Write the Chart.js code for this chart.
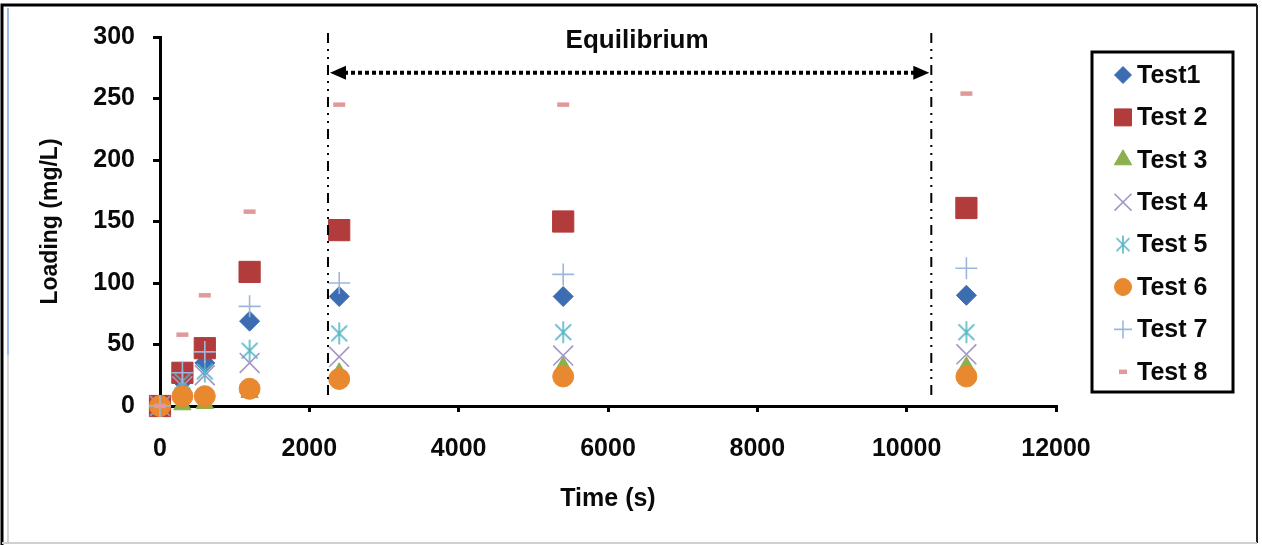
<!DOCTYPE html>
<html>
<head>
<meta charset="utf-8">
<script src="https://cdn.jsdelivr.net/npm/chart.js"></script>
<style>
  html, body { margin: 0; padding: 0; background: #fff; }
  #wrap { width: 1262px; height: 545px; }
</style>
</head>
<body>
<div id="wrap"><canvas id="loadingChart" width="1262" height="545"></canvas></div>
<script>
// sampling times (s)
const times = [0, 300, 600, 1200, 2400, 5400, 10800];

// loading (mg/L) per test
const test1 = [0, 20, 35, 69, 89, 89, 90];
const test2 = [0, 27, 47, 109, 143, 150, 161];
const test3 = [0, 1, 2, 11, 27, 32, 32];
const test4 = [0, 16, 25, 35, 40, 41, 42];
const test5 = [0, 20, 28, 45, 59, 60, 60];
const test6 = [0, 8, 8, 14, 22, 24, 24];
const test7 = [0, 27, 44, 81, 100, 107, 112];
const test8 = [0, 58, 90, 158, 245, 245, 254];

const seriesNames = ['Test1', 'Test 2', 'Test 3', 'Test 4', 'Test 5', 'Test 6', 'Test 7', 'Test 8'];
const seriesValues = [test1, test2, test3, test4, test5, test6, test7, test8];

// equilibrium annotation (data units)
const eqStart = 2250;
const eqEnd = 10330;
const eqArrowY = 271;
const eqLabelY = 297;
const eqLabelX = 6390;
const eqLabel = 'Equilibrium';

const FONT = "'Liberation Sans', Arial, sans-serif";
const TEXT = '#0a0a0a';

function makeAsterisk(color, half, lw) {
    let c = document.createElement('canvas');
    let size = Math.ceil(half * 2 + 4);
    c.width = size;
    c.height = size;
    let g = c.getContext('2d');
    let m = size / 2;
    let d = half * 0.72;
    g.strokeStyle = color;
    g.lineWidth = lw;
    g.beginPath();
    g.moveTo(m - d, m - d); g.lineTo(m + d, m + d);
    g.moveTo(m + d, m - d); g.lineTo(m - d, m + d);
    g.moveTo(m, m - half); g.lineTo(m, m + half);
    g.stroke();
    return c;
}

// marker look of each series: chart and legend
const styles = [
    { pointStyle: 'rectRot', radius: 10, fill: '#3c6db3', stroke: '#3c6db3', width: 1, legendRadius: 8.5 },
    { pointStyle: 'rect', radius: 15, fill: '#b13c3b', stroke: '#b13c3b', width: 1, legendRadius: 12 },
    { pointStyle: 'triangle', radius: 10, fill: '#8cb04b', stroke: '#8cb04b', width: 1, legendRadius: 10 },
    { pointStyle: 'crossRot', radius: 14, fill: 'rgba(0,0,0,0)', stroke: '#a397c6', width: 1.6, legendRadius: 12 },
    { pointStyle: makeAsterisk('#55b5c6', 11, 1.6), radius: 11, fill: 'rgba(0,0,0,0)', stroke: '#55b5c6', width: 1.6,
      legendStyle: makeAsterisk('#55b5c6', 9, 1.6), legendRadius: 9 },
    { pointStyle: 'circle', radius: 10.5, fill: '#e8892f', stroke: '#e8892f', width: 1, legendRadius: 8.5 },
    { pointStyle: 'cross', radius: 11, fill: 'rgba(0,0,0,0)', stroke: '#9db7dc', width: 1.6, legendRadius: 9 },
    { pointStyle: 'line', radius: 6, fill: '#e09a9a', stroke: '#e09a9a', width: 4.5, legendRadius: 4 }
];

const datasets = seriesNames.map((name, i) => ({
    label: name,
    data: times.map((t, j) => ({ x: t, y: seriesValues[i][j] })),
    pointStyle: styles[i].pointStyle,
    pointRadius: styles[i].radius,
    backgroundColor: styles[i].fill,
    borderColor: styles[i].stroke,
    borderWidth: styles[i].width,
    showLine: false,
    clip: false,
    order: seriesNames.length - 1 - i
}));

const equilibriumPlugin = {
    id: 'equilibrium',
    afterDatasetsDraw(chart) {
        let ctx = chart.ctx;
        let xs = chart.scales.x, ys = chart.scales.y;
        let area = chart.chartArea;
        let x1 = xs.getPixelForValue(eqStart);
        let x2 = xs.getPixelForValue(eqEnd);
        let ay = ys.getPixelForValue(eqArrowY);
        ctx.save();
        // dash-dot-dot boundaries
        ctx.strokeStyle = '#000';
        ctx.lineWidth = 2;
        ctx.setLineDash([10, 6, 2, 6, 2, 6]);
        [x1, x2].forEach(x => {
            ctx.beginPath();
            ctx.moveTo(x, area.top - 4);
            ctx.lineTo(x, area.bottom - 8);
            ctx.stroke();
        });
        // dotted double arrow
        ctx.lineWidth = 4;
        ctx.setLineDash([4, 3]);
        ctx.beginPath();
        ctx.moveTo(x1 + 16, ay);
        ctx.lineTo(x2 - 16, ay);
        ctx.stroke();
        ctx.setLineDash([]);
        ctx.fillStyle = '#000';
        ctx.beginPath();
        ctx.moveTo(x1 + 2, ay);
        ctx.lineTo(x1 + 18, ay - 7);
        ctx.lineTo(x1 + 18, ay + 7);
        ctx.closePath();
        ctx.fill();
        ctx.beginPath();
        ctx.moveTo(x2 - 2, ay);
        ctx.lineTo(x2 - 18, ay - 7);
        ctx.lineTo(x2 - 18, ay + 7);
        ctx.closePath();
        ctx.fill();
        // label
        ctx.font = 'bold 26px ' + FONT;
        ctx.fillStyle = TEXT;
        ctx.textAlign = 'center';
        ctx.textBaseline = 'middle';
        ctx.fillText(eqLabel, xs.getPixelForValue(eqLabelX), ys.getPixelForValue(eqLabelY));
        ctx.restore();
    }
};

const legendBoxPlugin = {
    id: 'legendBox',
    afterDraw(chart) {
        let ctx = chart.ctx;
        let left = 1092, top = 52, w = 141, h = 340;
        ctx.save();
        ctx.strokeStyle = '#000';
        ctx.lineWidth = 3;
        ctx.strokeRect(left, top, w, h);
        ctx.font = 'bold 25px ' + FONT;
        ctx.textAlign = 'left';
        ctx.textBaseline = 'middle';
        seriesNames.forEach((name, i) => {
            let y = 75 + i * 42.4;
            let s = styles[i];
            ctx.fillStyle = s.fill;
            ctx.strokeStyle = s.stroke;
            ctx.lineWidth = s.width;
            Chart.helpers.drawPoint(ctx, {
                pointStyle: s.legendStyle || s.pointStyle,
                radius: s.legendRadius,
                rotation: 0,
                borderWidth: s.width
            }, 1123, y);
            ctx.fillStyle = TEXT;
            ctx.fillText(name, 1137, y + 1);
        });
        ctx.restore();
    }
};

const framePlugin = {
    id: 'frame',
    afterDraw(chart) {
        let ctx = chart.ctx;
        ctx.save();
        ctx.strokeStyle = '#000';
        ctx.lineWidth = 3;
        ctx.beginPath();
        ctx.moveTo(2, 545); ctx.lineTo(2, 5); ctx.lineTo(1257, 5);
        ctx.stroke();
        ctx.lineWidth = 2;
        ctx.strokeStyle = '#222';
        ctx.beginPath();
        ctx.moveTo(1257, 5); ctx.lineTo(1257, 543);
        ctx.stroke();
        ctx.strokeStyle = '#d0d0d0';
        ctx.beginPath();
        ctx.moveTo(2, 543); ctx.lineTo(1257, 543);
        ctx.stroke();
        ctx.strokeStyle = '#7fa6e0';
        ctx.lineWidth = 1.5;
        ctx.beginPath();
        ctx.moveTo(8, 8); ctx.lineTo(8, 355);
        ctx.stroke();
        ctx.strokeStyle = '#c8c8c8';
        ctx.beginPath();
        ctx.moveTo(8, 355); ctx.lineTo(8, 543);
        ctx.stroke();
        ctx.restore();
    }
};

new Chart(document.getElementById('loadingChart'), {
    type: 'scatter',
    data: { datasets: datasets },
    options: {
        responsive: false,
        animation: false,
        devicePixelRatio: 1,
        layout: { padding: { left: 0, top: 37, right: 206, bottom: 0 } },
        plugins: {
            legend: { display: false },
            tooltip: { enabled: false }
        },
        scales: {
            x: {
                type: 'linear',
                min: 0,
                max: 12000,
                ticks: {
                    stepSize: 2000,
                    color: TEXT,
                    font: { family: FONT, size: 25, weight: 'bold' },
                    padding: 22,
                    maxRotation: 0,
                    callback: v => String(v)
                },
                grid: { drawOnChartArea: false, drawTicks: true, tickLength: 6, color: '#000', lineWidth: 3 },
                border: { color: '#000', width: 3 },
                title: {
                    display: true,
                    text: 'Time (s)',
                    color: TEXT,
                    font: { family: FONT, size: 25, weight: 'bold' },
                    padding: { top: 0, bottom: 31 }
                },
                afterFit: s => { s.height = 139; }
            },
            y: {
                type: 'linear',
                min: 0,
                max: 300,
                ticks: {
                    stepSize: 50,
                    color: TEXT,
                    font: { family: FONT, size: 25, weight: 'bold' },
                    padding: 18,
                    callback: v => String(v)
                },
                grid: { drawOnChartArea: false, drawTicks: true, tickLength: 7, color: '#000', lineWidth: 3 },
                border: { color: '#000', width: 3 },
                title: {
                    display: true,
                    text: 'Loading (mg/L)',
                    color: TEXT,
                    font: { family: FONT, size: 23, weight: 'bold' },
                    padding: { top: 37, bottom: 0 }
                },
                afterFit: s => { s.width = 160; }
            }
        }
    },
    plugins: [equilibriumPlugin, legendBoxPlugin, framePlugin]
});
</script>
</body>
</html>
